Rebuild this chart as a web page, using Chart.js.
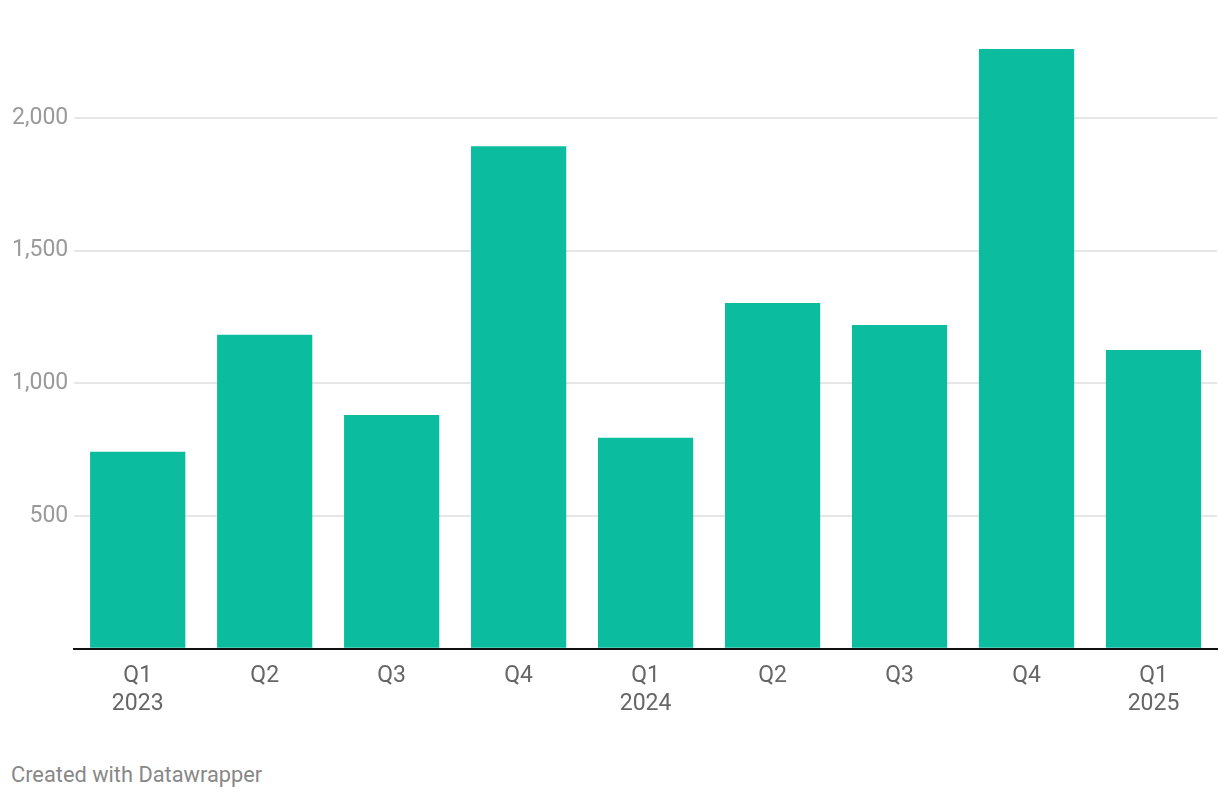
<!DOCTYPE html>
<html>
<head>
<meta charset="utf-8">
<script src="https://cdn.jsdelivr.net/npm/chart.js@4"></script>
<style>
  body { margin: 0; background: #fff; font-family: Roboto, sans-serif; }
  #wrap { position: relative; width: 1220px; height: 739px; }
  #credito { position: absolute; left: 11px; top: 762px; font-size: 21.8px; color: #888; }
</style>
</head>
<body>
<div id="wrap"><canvas id="barras"></canvas></div>
<div id="credito">Created with Datawrapper</div>
<script>
// datos
const trimestres = [['Q1', '2023'], 'Q2', 'Q3', 'Q4', ['Q1', '2024'], 'Q2', 'Q3', 'Q4', ['Q1', '2025']];
const valores = [742, 1183, 881, 1894, 795, 1303, 1220, 2260, 1126];
const marcasY = [0, 500, 1000, 1500, 2000];

const ctx = document.getElementById('barras');
new Chart(ctx, {
  type: 'bar',
  data: {
    labels: trimestres,
    datasets: [{
      data: valores,
      backgroundColor: '#0bbc9f',
      barPercentage: 0.75,
      categoryPercentage: 1
    }]
  },
  options: {
    responsive: true,
    maintainAspectRatio: false,
    animation: false,
    layout: { padding: { top: 3, left: 6, right: 3, bottom: 7 } },
    plugins: { legend: { display: false }, tooltip: { enabled: false } },
    scales: {
      x: {
        grid: { display: false, drawTicks: false },
        border: { color: '#111', width: 2 },
        ticks: { color: '#666', padding: 14, font: { family: 'Roboto', size: 23 } }
      },
      y: {
        min: 0,
        max: 2370,
        border: { display: false },
        afterBuildTicks: (escala) => {
          escala.ticks = marcasY.map(v => ({ value: v }));
        },
        grid: {
          drawTicks: false,
          lineWidth: 2,
          color: (c) => (c.tick && c.tick.value === 0) ? 'transparent' : '#e6e6e6'
        },
        ticks: {
          padding: 6,
          color: '#9a9a9a',
          font: { family: 'Roboto', size: 23 },
          callback: (v) => Number(v) === 0 ? '' : Number(v).toLocaleString('en-US')
        }
      }
    }
  }
});
</script>
</body>
</html>
